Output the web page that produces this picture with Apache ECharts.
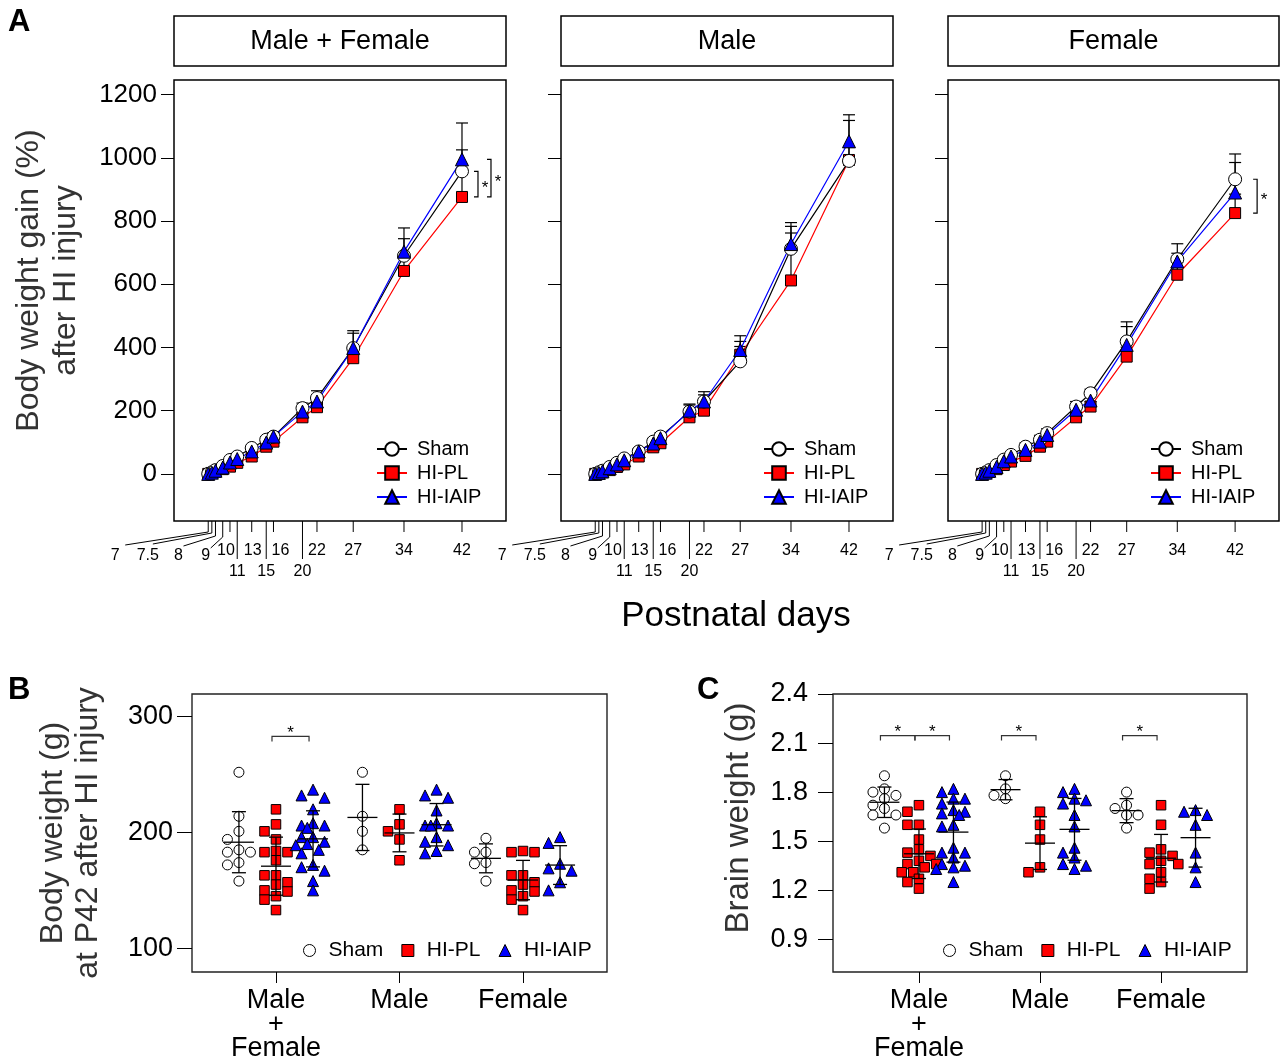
<!DOCTYPE html>
<html><head><meta charset="utf-8">
<script src="https://cdn.jsdelivr.net/npm/echarts@6/dist/echarts.min.js"></script>
<style>html,body{margin:0;padding:0;background:#fff}#c{width:1280px;height:1060px}</style>
</head><body><div id="c"></div>
<script>
const FONT = '"Liberation Sans", Arial, Helvetica, sans-serif';

// ===== Panel A : body weight gain (%) after HI injury =====
const days = [7, 7.5, 8, 9, 10, 11, 13, 15, 16, 20, 22, 27, 34, 42];
const dayLabels = ['7', '7.5', '8', '9', '10', '11', '13', '15', '16', '20', '22', '27', '34', '42'];
const panelTitlesA = ['Male + Female', 'Male', 'Female'];
const treatments = ['Sham', 'HI-PL', 'HI-IAIP'];
const yTicksA = [0, 200, 400, 600, 800, 1000, 1200];

const gainShamMF = [0, 5, 12, 25, 44, 55, 82, 108, 118, 208, 240, 398, 690, 957];
const gainPLMF   = [0, 3, 7, 15, 23, 35, 55, 86, 102, 179, 211, 366, 642, 876];
const gainIAIPMF = [0, 4, 10, 20, 36, 47, 71, 99, 118, 197, 229, 398, 703, 995];
const sdShamMF   = [0, 2, 3, 4, 5, 6, 8, 10, 12, 16, 23, 55, 88, 153];
const sdPLMF     = [0, 2, 3, 4, 5, 6, 8, 10, 11, 15, 18, 30, 45, 80];
const sdIAIPMF   = [0, 2, 3, 4, 5, 6, 8, 10, 12, 16, 20, 47, 41, 30];

const gainShamM = [0, 5, 10, 22, 35, 49, 71, 102, 118, 197, 229, 356, 712, 990];
const gainPLM   = [0, 2, 5, 12, 22, 30, 55, 84, 97, 179, 200, 377, 612, 993];
const gainIAIPM = [0, 3, 8, 18, 30, 43, 71, 96, 113, 200, 229, 392, 727, 1052];
const sdShamM   = [0, 2, 3, 4, 5, 6, 8, 10, 12, 24, 31, 63, 71, 128];
const sdPLM     = [0, 2, 3, 4, 5, 6, 8, 10, 11, 14, 15, 26, 150, 40];
const sdIAIPM   = [0, 2, 3, 4, 5, 6, 8, 10, 12, 18, 21, 45, 68, 84];

const gainShamF = [0, 5, 12, 28, 45, 60, 86, 108, 129, 213, 255, 419, 679, 932];
const gainPLF   = [0, 2, 6, 15, 28, 39, 57, 86, 102, 179, 213, 371, 630, 825];
const gainIAIPF = [0, 4, 10, 22, 40, 55, 76, 102, 123, 203, 232, 408, 672, 890];
const sdShamF   = [0, 2, 3, 5, 6, 8, 12, 14, 14, 16, 13, 62, 49, 80];
const sdPLF     = [0, 2, 3, 4, 5, 6, 8, 10, 11, 14, 16, 30, 40, 60];
const sdIAIPF   = [0, 2, 3, 4, 5, 6, 8, 10, 12, 15, 18, 58, 26, 95];

// significance brackets in A: [panel, day index, treatment a, treatment b]
const sigA = [[0, 13, 0, 1], [0, 13, 2, 1], [2, 13, 0, 1]];

// ===== Panel B : body weight (g) at P42 =====
const groupLabelsBC = ['Male\n+\nFemale', 'Male', 'Female'];
const yTicksB = [100, 200, 300];
const bwShamMF = [252, 214, 201, 194, 185, 183, 183, 174, 172, 158];
const bwPLMF   = [220, 207, 201, 194, 184, 183, 183, 176, 163, 163, 157, 155, 150, 149, 145, 142, 133];
const bwIAIPMF = [237, 232, 230, 220, 208, 206, 206, 204, 196, 196, 192, 190, 189, 185, 182, 172, 170, 167, 158, 150];
const bwShamM  = [252, 214, 201, 185];
const bwPLM    = [220, 207, 201, 194, 176];
const bwIAIPM  = [237, 232, 230, 219, 208, 206, 206, 206, 196, 192, 189, 184, 182];
const bwShamF  = [195, 183, 183, 174, 173, 158];
const bwPLF    = [184, 183, 183, 163, 163, 157, 155, 150, 149, 145, 142, 133];
const bwIAIPF  = [196, 191, 173, 169, 167, 157, 150];
const sigB = [[0, 1, 2]];           // [group, treatment a, treatment b]
const sigLevelB = 283;

// ===== Panel C : brain weight (g) =====
const yTicksC = [0.9, 1.2, 1.5, 1.8, 2.1, 2.4];
const brShamMF = [1.90, 1.82, 1.80, 1.78, 1.76, 1.72, 1.70, 1.66, 1.66, 1.58];
const brPLMF   = [1.72, 1.68, 1.60, 1.60, 1.51, 1.45, 1.43, 1.41, 1.38, 1.36, 1.36, 1.34, 1.31, 1.31, 1.27, 1.25, 1.21];
const brIAIPMF = [1.82, 1.80, 1.76, 1.76, 1.73, 1.69, 1.68, 1.67, 1.66, 1.60, 1.59, 1.46, 1.43, 1.43, 1.40, 1.36, 1.35, 1.34, 1.33, 1.25];
const brShamM  = [1.90, 1.82, 1.78, 1.76];
const brPLM    = [1.68, 1.60, 1.51, 1.34, 1.31];
const brIAIPM  = [1.82, 1.80, 1.76, 1.75, 1.73, 1.66, 1.59, 1.46, 1.43, 1.40, 1.36, 1.35, 1.33];
const brShamF  = [1.80, 1.72, 1.70, 1.66, 1.66, 1.58];
const brPLF    = [1.72, 1.60, 1.45, 1.43, 1.41, 1.38, 1.36, 1.36, 1.31, 1.27, 1.25, 1.21];
const brIAIPF  = [1.69, 1.68, 1.66, 1.60, 1.43, 1.34, 1.25];
const sigC = [[0, 0, 1], [0, 1, 2], [1, 0, 1], [2, 0, 1]];
const sigLevelC = 2.146;

// ===== layout & style =====
const gridsA = [
  {left: 174, top: 80, width: 332, height: 441},
  {left: 561, top: 80, width: 332, height: 441},
  {left: 948, top: 80, width: 331, height: 441}
];
const xRangeA = [2.28, 48.07];
const yRangeA = [-149, 1246];
// x tick decorations of A (relative to tick x and plot bottom)
const dayTickLayout = [
  {stem: 11, ex: -83, ey: 24, lx: -93, ly: 35},
  {stem: 12, ex: -59, ey: 23, lx: -64, ly: 35},
  {stem: 15, ex: -32, ey: 25, lx: -37, ly: 35},
  {stem: 16, ex: -12, ey: 27, lx: -17, ly: 35},
  {stem: 11, lx: -4, ly: 30},
  {stem: 38, lx: 0, ly: 51},
  {stem: 11, lx: 1, ly: 30},
  {stem: 38, lx: 0, ly: 51},
  {stem: 11, lx: 7, ly: 30},
  {stem: 38, lx: 0, ly: 51},
  {stem: 11, lx: 0, ly: 30},
  {stem: 11, lx: 0, ly: 30},
  {stem: 11, lx: 0, ly: 30},
  {stem: 11, lx: 0, ly: 30}
];
const sigOffsetA = [16, 29, 22];
const drawOrder = [1, 0, 2];   // HI-PL underneath, then Sham, then HI-IAIP on top
const marker = [
  {symbol: 'circle', sizeA: 13, sizeB: 10, fill: '#ffffff', line: '#000000'},
  {symbol: 'rect', sizeA: 11, sizeB: 9.5, fill: '#ff0000', line: '#ff0000'},
  {symbol: 'triangle', sizeA: 13, sizeB: 11, fill: '#0000ff', line: '#0000ff'}
];

function txt(text, x, y, size, extra) {
  return Object.assign({type: 'text', x: x, y: y, silent: true,
    style: Object.assign({text: text, fontSize: size, fontFamily: FONT, fill: '#000',
      align: 'center', verticalAlign: 'middle', textAlign: 'center', textVerticalAlign: 'middle'}, extra || {})});
}
function mean(a) { return a.reduce((s, v) => s + v, 0) / a.length; }
function sdev(a) { const m = mean(a); return Math.sqrt(a.reduce((s, v) => s + (v - m) * (v - m), 0) / (a.length - 1)); }
// simple beeswarm: offsets in px, values converted to px with pxPerUnit
function swarm(values, cx, unitsPerPxX, pxPerUnitY) {
  const order = values.map((v, i) => i).sort((a, b) => values[b] - values[a]);
  const cand = [0, -11.5, 11.5, -5.75, 5.75, -17.25, 17.25];
  const D = 8.5;
  const placed = [], out = [];
  order.forEach(i => {
    const y = values[i] * pxPerUnitY;
    let best = null, bestScore = -1;
    for (const dx of cand) {
      let minD = Infinity;
      placed.forEach(p => { const d = Math.hypot(p.x - dx, p.y - y); if (d < minD) minD = d; });
      if (minD >= D) { best = dx; break; }
      if (minD > bestScore) { bestScore = minD; best = dx; }
    }
    placed.push({x: best, y: y});
    out.push([cx + best * unitsPerPxX, values[i]]);
  });
  return out;
}

const gainA = [[gainShamMF, gainPLMF, gainIAIPMF], [gainShamM, gainPLM, gainIAIPM], [gainShamF, gainPLF, gainIAIPF]];
const sdA = [[sdShamMF, sdPLMF, sdIAIPMF], [sdShamM, sdPLM, sdIAIPM], [sdShamF, sdPLF, sdIAIPF]];

const grids = [], xAxes = [], yAxes = [], legends = [], series = [], graphics = [];

gridsA.forEach((g, p) => {
  grids.push(Object.assign({show: true, borderColor: '#000', borderWidth: 1.5, backgroundColor: 'transparent', containLabel: false, outerBoundsMode: 'none'}, g));
  xAxes.push({type: 'value', gridIndex: p, min: xRangeA[0], max: xRangeA[1], show: false});
  yAxes.push({
    type: 'value', gridIndex: p, min: yRangeA[0], max: yRangeA[1],
    axisLine: {show: false}, splitLine: {show: false},
    axisTick: {show: true, length: 13, customValues: yTicksA, lineStyle: {color: '#000', width: 1}},
    axisLabel: {show: p === 0, customValues: yTicksA, formatter: v => String(v), fontSize: 26, color: '#000', margin: 17, fontFamily: FONT},
    name: p === 0 ? 'Body weight gain (%)\nafter HI injury' : '',
    nameLocation: 'middle', nameRotate: 90, nameGap: 89, nameMoveOverlap: false,
    nameTextStyle: {fontSize: 32, lineHeight: 37, color: '#333', fontFamily: FONT, align: 'center', padding: [0, 0, 0, 40]}
  });
  legends.push({
    show: true, orient: 'vertical', left: g.left + 202, top: 439, padding: 0, itemGap: 4,
    itemWidth: 30, itemHeight: 17, selectedMode: false, data: treatments,
    textStyle: {fontSize: 20, color: '#000', fontFamily: FONT, padding: [0, 0, 0, 5]}
  });
  // header strip
  graphics.push({type: 'rect', silent: true, shape: {x: g.left, y: 16, width: g.width, height: 50}, style: {fill: '#fff', stroke: '#000', lineWidth: 1.5}});
  graphics.push(txt(panelTitlesA[p], g.left + g.width / 2, 42, 27));

  // error bars (upper SD)
  gainA[p].forEach((vals, t) => {
    series.push({
      type: 'custom', name: 'sdA', xAxisIndex: p, yAxisIndex: p, silent: true, clip: false, z: 1,
      data: days.map((d, i) => [d, vals[i], sdA[p][t][i]]), encode: {x: 0, y: 1},
      renderItem: (params, api) => {
        const s = api.value(2);
        if (!s) return {type: 'group', children: []};
        const a = api.coord([api.value(0), api.value(1)]);
        const b = api.coord([api.value(0), api.value(1) + s]);
        return {type: 'group', children: [
          {type: 'line', shape: {x1: a[0], y1: a[1], x2: b[0], y2: b[1]}, style: {stroke: '#000', lineWidth: 1.2}},
          {type: 'line', shape: {x1: b[0] - 6, y1: b[1], x2: b[0] + 6, y2: b[1]}, style: {stroke: '#000', lineWidth: 1.2}}
        ]};
      }
    });
  });
  // lines + markers
  drawOrder.forEach(t => {
    const vals = gainA[p][t];
    series.push({
      type: 'line', name: treatments[t], xAxisIndex: p, yAxisIndex: p, z: 3, silent: true,
      data: days.map((d, i) => [d, vals[i]]),
      symbol: marker[t].symbol, symbolSize: marker[t].sizeA, showSymbol: true,
      itemStyle: {color: marker[t].fill, borderColor: '#000', borderWidth: 1},
      lineStyle: {color: marker[t].line, width: 1.2},
      emphasis: {disabled: true}
    });
  });
  // x ticks with leader lines
  series.push({
    type: 'custom', name: 'ticksA', xAxisIndex: p, yAxisIndex: p, silent: true, clip: false, z: 5,
    data: days.map(d => [d, 0]), encode: {x: 0, y: 1},
    renderItem: (params, api) => {
      const i = params.dataIndex;
      const L = dayTickLayout[i];
      const cs = params.coordSys;
      const x = api.coord([api.value(0), 0])[0];
      const yb = cs.y + cs.height;
      const ch = [{type: 'line', shape: {x1: x, y1: yb, x2: x, y2: yb + L.stem}, style: {stroke: '#000', lineWidth: 1}}];
      if (L.ex !== undefined) ch.push({type: 'line', shape: {x1: x, y1: yb + L.stem, x2: x + L.ex, y2: yb + L.ey}, style: {stroke: '#000', lineWidth: 1}});
      ch.push({type: 'text', x: x + L.lx, y: yb + L.ly, style: {text: dayLabels[i], fontSize: 16, fontFamily: FONT, fill: '#000', align: 'center', verticalAlign: 'middle', textAlign: 'center', textVerticalAlign: 'middle'}});
      return {type: 'group', children: ch};
    }
  });
});

// significance brackets in A
sigA.forEach((s, k) => {
  const [p, i, a, b] = s;
  const dx = sigOffsetA[k];
  series.push({
    type: 'custom', name: 'sigA', xAxisIndex: p, yAxisIndex: p, silent: true, clip: false, z: 5,
    data: [[days[i], gainA[p][a][i], gainA[p][b][i]]], encode: {x: 0, y: 1},
    renderItem: (params, api) => {
      const x = api.coord([api.value(0), 0])[0] + dx;
      const ya = api.coord([api.value(0), api.value(1)])[1];
      const yb = api.coord([api.value(0), api.value(2)])[1];
      return {type: 'group', children: [
        {type: 'polyline', shape: {points: [[x - 4, ya], [x, ya], [x, yb], [x - 4, yb]]}, style: {stroke: '#000', lineWidth: 1.2, fill: null}},
        {type: 'text', x: x + 7, y: (ya + yb) / 2 + 4, style: {text: '*', fontSize: 17, fontFamily: FONT, fill: '#000', align: 'center', verticalAlign: 'middle', textAlign: 'center', textVerticalAlign: 'middle'}}
      ]};
    }
  });
});

// ===== Panels B and C =====
const panelsBC = [
  {grid: {left: 192, top: 694, width: 415, height: 278}, xr: [0.32, 3.68], yr: [79.5, 319.6], ticks: yTicksB, dec: 0,
   data: [[bwShamMF, bwPLMF, bwIAIPMF], [bwShamM, bwPLM, bwIAIPM], [bwShamF, bwPLF, bwIAIPF]],
   offs: [-0.3, 0, 0.3], sig: sigB, sigLevel: sigLevelB,
   name: 'Body weight (g)\nat P42 after HI injury', nameGap: 86, lineH: 35, fs: 32, shift: 0, labelMargin: 19, legendLeft: 303},
  {grid: {left: 833, top: 694, width: 414, height: 278}, xr: [0.29, 3.71], yr: [0.7, 2.4], ticks: yTicksC, dec: 1,
   data: [[brShamMF, brPLMF, brIAIPMF], [brShamM, brPLM, brIAIPM], [brShamF, brPLF, brIAIPF]],
   offs: [-0.285, 0, 0.285], sig: sigC, sigLevel: sigLevelC,
   name: 'Brain weight (g)', nameGap: 77, lineH: 35, fs: 33, shift: 30, labelMargin: 25, legendLeft: 943}
];

panelsBC.forEach((P, k) => {
  const gi = 3 + k;
  grids.push(Object.assign({show: true, borderColor: '#222', borderWidth: 1.4, backgroundColor: 'transparent', containLabel: false, outerBoundsMode: 'none'}, P.grid));
  xAxes.push({
    type: 'value', gridIndex: gi, min: P.xr[0], max: P.xr[1],
    axisLine: {show: false}, splitLine: {show: false},
    axisTick: {show: true, customValues: [1, 2, 3], length: 11, lineStyle: {color: '#000', width: 1}},
    axisLabel: {show: true, customValues: [1, 2, 3], formatter: v => groupLabelsBC[Math.round(v) - 1],
      fontSize: 27, lineHeight: 24, color: '#000', margin: 17, fontFamily: FONT, align: 'center'}
  });
  yAxes.push({
    type: 'value', gridIndex: gi, min: P.yr[0], max: P.yr[1],
    axisLine: {show: false}, splitLine: {show: false},
    axisTick: {show: true, customValues: P.ticks, length: 15, lineStyle: {color: '#000', width: 1}},
    axisLabel: {show: true, customValues: P.ticks, formatter: v => v.toFixed(P.dec), fontSize: 27, color: '#000', margin: P.labelMargin, fontFamily: FONT},
    name: P.name, nameLocation: 'middle', nameRotate: 90, nameGap: P.nameGap, nameMoveOverlap: false,
    nameTextStyle: {fontSize: P.fs, lineHeight: P.lineH, color: '#333', fontFamily: FONT, align: 'center', padding: [0, 0, 0, P.shift]}
  });
  legends.push({
    show: true, orient: 'horizontal', left: P.legendLeft, top: 940, padding: 0, itemGap: 18,
    itemWidth: 12, itemHeight: 12, selectedMode: false,
    data: treatments.map(t => t + '|BC'), formatter: n => n.split('|')[0],
    itemStyle: {borderWidth: 1, borderColor: '#000'},
    textStyle: {fontSize: 21, color: '#000', fontFamily: FONT, padding: [0, 0, 0, 8]}
  });
  const unitsPerPxX = (P.xr[1] - P.xr[0]) / P.grid.width;
  const pxPerUnitY = P.grid.height / (P.yr[1] - P.yr[0]);
  treatments.forEach((t, ti) => {
    const pts = [];
    P.data.forEach((grp, g) => { swarm(grp[ti], g + 1 + P.offs[ti], unitsPerPxX, pxPerUnitY).forEach(q => pts.push(q)); });
    series.push({
      type: 'scatter', name: t + '|BC', xAxisIndex: gi, yAxisIndex: gi, z: 2, silent: true,
      data: pts, symbol: marker[ti].symbol, symbolSize: marker[ti].sizeB,
      itemStyle: {color: marker[ti].fill, borderColor: '#000', borderWidth: 1, opacity: 1},
      emphasis: {disabled: true}
    });
  });
  const stats = [];
  P.data.forEach((grp, g) => grp.forEach((vals, ti) => stats.push([g + 1 + P.offs[ti], mean(vals), sdev(vals)])));
  series.push({
    type: 'custom', name: 'meanSD', xAxisIndex: gi, yAxisIndex: gi, silent: true, clip: false, z: 4,
    data: stats, encode: {x: 0, y: 1},
    renderItem: (params, api) => {
      const x = api.value(0), m = api.value(1), s = api.value(2);
      const c = api.coord([x, m]), t = api.coord([x, m + s]), b = api.coord([x, m - s]);
      const st = {stroke: '#000', lineWidth: 1.3};
      return {type: 'group', children: [
        {type: 'line', shape: {x1: c[0], y1: t[1], x2: c[0], y2: b[1]}, style: st},
        {type: 'line', shape: {x1: c[0] - 15, y1: c[1], x2: c[0] + 15, y2: c[1]}, style: st},
        {type: 'line', shape: {x1: c[0] - 7, y1: t[1], x2: c[0] + 7, y2: t[1]}, style: st},
        {type: 'line', shape: {x1: c[0] - 7, y1: b[1], x2: c[0] + 7, y2: b[1]}, style: st}
      ]};
    }
  });
  series.push({
    type: 'custom', name: 'sigBC', xAxisIndex: gi, yAxisIndex: gi, silent: true, clip: false, z: 4,
    data: P.sig.map(s => [s[0] + 1 + P.offs[s[1]], P.sigLevel, s[0] + 1 + P.offs[s[2]]]), encode: {x: 0, y: 1},
    renderItem: (params, api) => {
      const p1 = api.coord([api.value(0), api.value(1)]);
      const p2 = api.coord([api.value(2), api.value(1)]);
      const x1 = p1[0] - 4, x2 = p2[0] - 4, y = p1[1];
      return {type: 'group', children: [
        {type: 'polyline', shape: {points: [[x1, y + 5], [x1, y], [x2, y], [x2, y + 5]]}, style: {stroke: '#333', lineWidth: 1.2, fill: null}},
        {type: 'text', x: (x1 + x2) / 2, y: y - 3, style: {text: '*', fontSize: 17, fontFamily: FONT, fill: '#000', align: 'center', verticalAlign: 'middle', textAlign: 'center', textVerticalAlign: 'middle'}}
      ]};
    }
  });
});

graphics.push(txt('Postnatal days', 736, 616, 35));
graphics.push(txt('A', 8, 22, 31, {fontWeight: 'bold', align: 'left', textAlign: 'left'}));
graphics.push(txt('B', 8, 690, 31, {fontWeight: 'bold', align: 'left', textAlign: 'left'}));
graphics.push(txt('C', 697, 690, 31, {fontWeight: 'bold', align: 'left', textAlign: 'left'}));

const chart = echarts.init(document.getElementById('c'), null, {renderer: 'canvas'});
chart.setOption({
  animation: false,
  backgroundColor: '#ffffff',
  textStyle: {fontFamily: FONT},
  tooltip: {show: false},
  grid: grids, xAxis: xAxes, yAxis: yAxes, legend: legends,
  graphic: graphics, series: series
});
</script></body></html>
